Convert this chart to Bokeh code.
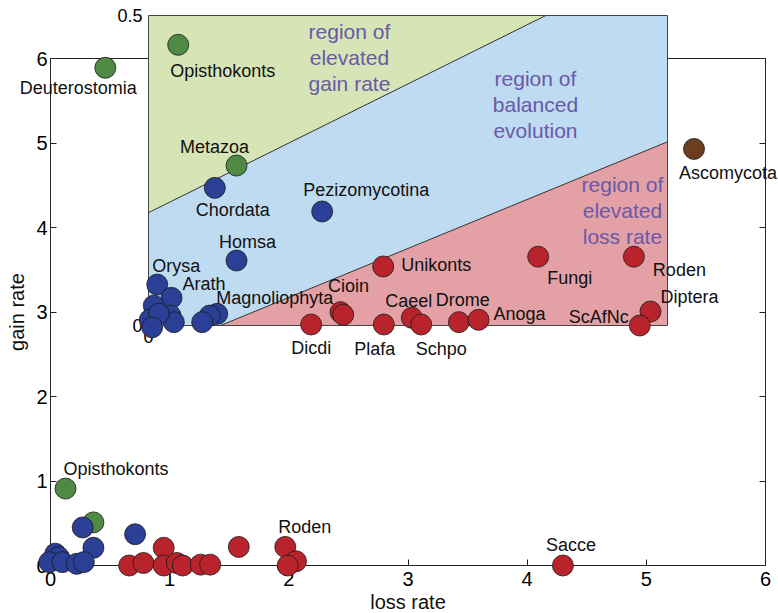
from bokeh.plotting import figure
from bokeh.models import Range1d, LinearAxis, FixedTicker, ColumnDataSource
from bokeh.core.properties import value
from bokeh.embed import file_html
from bokeh.resources import INLINE

# ---------------- data ----------------
# main panel: (loss rate, gain rate)
main_green_x = [0.46, 0.126, 0.36]
main_green_y = [5.89, 0.91, 0.51]
main_green_lab = ["Deuterostomia", "Opisthokonts", ""]

main_blue_x = [0.27, 0.71, 0.36, 0.04, 0.07, -0.01, 0.10, 0.22, 0.28]
main_blue_y = [0.45, 0.37, 0.21, 0.14, 0.10, 0.04, 0.04, 0.02, 0.04]
main_blue_lab = ["", "", "", "", "", "", "", "", ""]

main_red_x = [0.66, 0.78, 0.95, 0.95, 1.06, 1.11, 1.26, 1.34, 1.58, 1.97, 2.06, 1.99, 4.30]
main_red_y = [0.00, 0.03, 0.21, 0.00, 0.03, 0.00, 0.01, 0.01, 0.22, 0.22, 0.05, 0.00, 0.00]
main_red_lab = ["", "", "", "", "", "", "", "", "", "Roden", "", "", "Sacce"]

main_brown_x = [5.40]
main_brown_y = [4.93]
main_brown_lab = ["Ascomycota"]

# inset panel: (loss rate, gain rate), both 0 .. 0.5
inset_green_x = [0.0286, 0.0848]
inset_green_y = [0.4527, 0.258]
inset_green_lab = ["Opisthokonts", "Metazoa"]

inset_blue_x = [0.0639, 0.1673, 0.0848, 0.0084, 0.0222, 0.0051, 0.0212, 0.0013,
                0.0244, 0.0099, 0.0035, 0.0662, 0.059, 0.0517]
inset_blue_y = [0.222, 0.1839, 0.1048, 0.066, 0.0446, 0.032, 0.016, 0.0092,
                0.0054, 0.0188, -0.003, 0.0188, 0.016, 0.0054]
inset_blue_lab = ["Chordata", "Pezizomycotina", "Homsa", "Orysa", "Arath", "", "", "",
                  "", "", "", "Magnoliophyta", "", ""]

inset_red_x = [0.1567, 0.185, 0.1876, 0.2267, 0.2261, 0.2537, 0.2627, 0.299, 0.318,
               0.3754, 0.4676, 0.4836, 0.4733]
inset_red_y = [0.0016, 0.0215, 0.0173, 0.0016, 0.0952, 0.0124, 0.0016, 0.0054, 0.0092,
               0.111, 0.111, 0.0226, 0.0]
inset_red_lab = ["Dicdi", "Cioin", "", "Plafa", "Unikonts", "Caeel", "Schpo", "Drome",
                 "Anoga", "Fungi", "Roden", "Diptera", "ScAfNc"]

# region boundaries in the inset
inset_max = 0.5
gain_line_intercept = 0.182    # upper boundary at loss = 0
gain_line_top_x = 0.3828       # upper boundary reaches gain = 0.5
loss_line_x0 = 0.0694          # lower boundary at gain = 0
loss_line_right_y = 0.2963     # lower boundary at loss = 0.5

region_texts = ["region of\nelevated\ngain rate",
                "region of\nbalanced\nevolution",
                "region of\nelevated\nloss rate"]

x_ticks = [0, 1, 2, 3, 4, 5, 6]
y_ticks = [0, 1, 2, 3, 4, 5, 6]
inset_y_ticks = [0, 0.5]
inset_x_ticks = [0]

# ---------------- styles / layout ----------------
W, H = 778, 613
FONT = "Liberation Sans"
C_GREEN, C_BLUE, C_RED, C_BROWN = "#4f8a45", "#2a3f95", "#b9232c", "#6a3e1e"
BG_GREEN, BG_BLUE, BG_RED = "#d7e4b5", "#bedbf1", "#e3a0a5"
PURPLE = "#6a58aa"
EDGE = "#222222"

# label placement: (dx px, dy px (down), align)
main_label_pos = {
    "Deuterostomia": (-27, 20, "center"),
    "Opisthokonts": (-2, -20, "left"),
    "Roden": (-7, -20, "left"),
    "Sacce": (8, -21, "center"),
    "Ascomycota": (34, 24, "center"),
}
inset_label_pos = {
    "Opisthokonts": (-8, 26, "left"),
    "Metazoa": (-22, -19, "center"),
    "Chordata": (18, 22, "center"),
    "Pezizomycotina": (44, -21, "center"),
    "Homsa": (11, -19, "center"),
    "Orysa": (-5, -19, "left"),
    "Arath": (11, -14, "left"),
    "Magnoliophyta": (-1, -16, "left"),
    "Dicdi": (0, 23, "center"),
    "Cioin": (8, -26, "center"),
    "Plafa": (-9, 24, "center"),
    "Unikonts": (18, -1, "left"),
    "Caeel": (-3, -17, "center"),
    "Schpo": (20, 24, "center"),
    "Drome": (4, -22, "center"),
    "Anoga": (15, -6, "left"),
    "Fungi": (9, 21, "left"),
    "Roden": (19, 13, "left"),
    "Diptera": (10, -14, "left"),
    "ScAfNc": (-11, -9, "right"),
}
region_pos = [(0.1936, 0.4323), (0.3728, 0.3565), (0.4566, 0.1855)]

# pixel geometry of the main axes (figure coordinates)
X0_PX, X6_PX = 50.0, 765.0     # loss 0 and loss 6
Y0_PX, Y6_PX = 565.0, 58.0     # gain 0 and gain 6 (from top)
sx = (X6_PX - X0_PX) / 6.0
sy = (Y0_PX - Y6_PX) / 6.0
x_range = Range1d(-X0_PX / sx, (W - X0_PX) / sx)
y_range = Range1d(-(H - Y0_PX) / sy, Y0_PX / sy)

# inset geometry (figure coordinates)
IX0_PX, IX1_PX = 148.0, 667.0
IY0_PX, IY1_PX = 325.0, 15.0
isx = (IX1_PX - IX0_PX) / inset_max
isy = (IY0_PX - IY1_PX) / inset_max
ix_range = Range1d(-IX0_PX / isx, (W - IX0_PX) / isx)
iy_range = Range1d(-(H - IY0_PX) / isy, IY0_PX / isy)

p = figure(width=W, height=H, output_backend="svg", toolbar_location=None,
           x_range=x_range, y_range=y_range,
           x_axis_location=None, y_axis_location=None, min_border=0)
p.outline_line_color = None
p.grid.visible = False
p.extra_x_ranges = {"ix": ix_range}
p.extra_y_ranges = {"iy": iy_range}


def style_axis(ax, labels=True, size="20px"):
    ax.major_tick_in = 6
    ax.major_tick_out = 0
    ax.minor_tick_line_color = None
    ax.axis_line_color = EDGE
    ax.major_tick_line_color = EDGE
    ax.major_label_text_font = FONT
    ax.major_label_text_font_size = size
    ax.major_label_text_color = "black" if labels else None
    ax.axis_label_text_font = FONT
    ax.axis_label_text_font_size = "20px"
    ax.axis_label_text_font_style = "normal"
    ax.axis_label_text_color = "#111111"


xb = LinearAxis(fixed_location=0, bounds=(0, 6), ticker=FixedTicker(ticks=x_ticks),
                axis_label="loss rate")
style_axis(xb)
xb.major_label_standoff = 6
xb.axis_label_standoff = 2
p.add_layout(xb, "below")

yl = LinearAxis(fixed_location=0, bounds=(0, 6), ticker=FixedTicker(ticks=y_ticks),
                axis_label="gain rate")
style_axis(yl)
yl.major_label_standoff = 3
yl.axis_label_standoff = 5
p.add_layout(yl, "left")

yr = LinearAxis(fixed_location=6, bounds=(0, 6), ticker=FixedTicker(ticks=y_ticks))
style_axis(yr, labels=False)
p.add_layout(yr, "right")

xt = LinearAxis(fixed_location=6, bounds=(0, 6), ticker=FixedTicker(ticks=x_ticks))
style_axis(xt, labels=False)
p.add_layout(xt, "above")

# inset tick labels
il = LinearAxis(x_range_name="ix", y_range_name="iy", fixed_location=0,
                ticker=FixedTicker(ticks=inset_y_ticks))
style_axis(il, size="18px")
il.axis_line_color = None
il.major_tick_line_color = None
il.major_label_standoff = 6
p.add_layout(il, "left")

ib = LinearAxis(x_range_name="ix", y_range_name="iy", fixed_location=0,
                ticker=FixedTicker(ticks=inset_x_ticks))
style_axis(ib, size="18px")
ib.axis_line_color = None
ib.major_tick_line_color = None
ib.major_label_standoff = 4
p.add_layout(ib, "below")

# ---------------- inset regions ----------------
M = inset_max
green_px = [0, gain_line_top_x, 0]
green_py = [gain_line_intercept, M, M]
blue_px = [0, loss_line_x0, M, M, gain_line_top_x, 0]
blue_py = [0, 0, loss_line_right_y, M, M, gain_line_intercept]
red_px = [loss_line_x0, M, M]
red_py = [0, 0, loss_line_right_y]
IR = dict(x_range_name="ix", y_range_name="iy", level="overlay")

p.patch(blue_px, blue_py, fill_color=BG_BLUE, line_color=None, **IR)
p.patch(green_px, green_py, fill_color=BG_GREEN, line_color=None, **IR)
p.patch(red_px, red_py, fill_color=BG_RED, line_color=None, **IR)
p.line([0, gain_line_top_x], [gain_line_intercept, M], line_color="#333333", line_width=1, **IR)
p.line([loss_line_x0, M], [0, loss_line_right_y], line_color="#333333", line_width=1, **IR)
p.quad(left=[0], right=[M], bottom=[0], top=[M], fill_color=None,
       line_color="#444444", line_width=1, **IR)

rsrc = ColumnDataSource(dict(x=[r[0] for r in region_pos], y=[r[1] for r in region_pos],
                             text=region_texts))
p.text(x="x", y="y", text="text", source=rsrc, text_font=value(FONT),
       text_font_size="21px", text_color=PURPLE, text_align="center",
       text_baseline="middle", text_line_height=1.12, **IR)

# ---------------- points ----------------
def add_points(xs, ys, color, inset=False):
    kw = IR if inset else dict(level="overlay")
    p.scatter(xs, ys, size=21, fill_color=color, line_color="#1a1a1a",
              line_width=1, line_alpha=0.8, **kw)


def add_labels(xs, ys, labs, pos, inset=False):
    kw = IR if inset else dict(level="overlay")
    d = dict(x=[], y=[], text=[], dx=[], dy=[], align=[])
    for x, y, t in zip(xs, ys, labs):
        if not t:
            continue
        dx, dy, al = pos[t]
        d["x"].append(x); d["y"].append(y); d["text"].append(t)
        d["dx"].append(dx); d["dy"].append(dy); d["align"].append(al)
    src = ColumnDataSource(d)
    p.text(x="x", y="y", text="text", x_offset="dx", y_offset="dy",
           text_align="align", text_baseline="middle", source=src,
           text_font=value(FONT), text_font_size="18px", text_color="#111111", **kw)


add_points(main_green_x, main_green_y, C_GREEN)
add_points(main_blue_x, main_blue_y, C_BLUE)
add_points(main_red_x, main_red_y, C_RED)
add_points(main_brown_x, main_brown_y, C_BROWN)

add_points(inset_green_x, inset_green_y, C_GREEN, inset=True)
add_points(inset_blue_x, inset_blue_y, C_BLUE, inset=True)
add_points(inset_red_x, inset_red_y, C_RED, inset=True)

add_labels(main_green_x, main_green_y, main_green_lab, main_label_pos)
add_labels(main_red_x, main_red_y, main_red_lab, main_label_pos)
add_labels(main_brown_x, main_brown_y, main_brown_lab, main_label_pos)
add_labels(inset_green_x, inset_green_y, inset_green_lab, inset_label_pos, inset=True)
add_labels(inset_blue_x, inset_blue_y, inset_blue_lab, inset_label_pos, inset=True)
add_labels(inset_red_x, inset_red_y, inset_red_lab, inset_label_pos, inset=True)

open("out.html", "w").write(file_html(p, INLINE))
